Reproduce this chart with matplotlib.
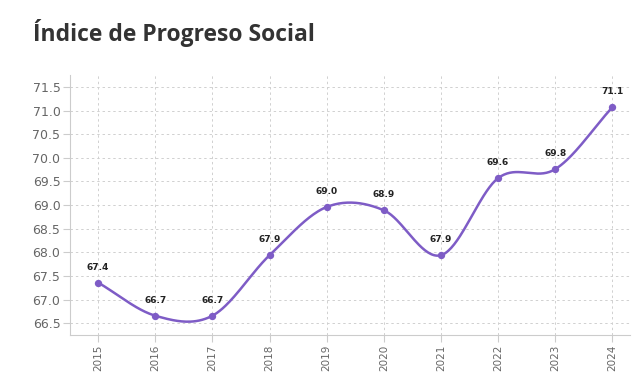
import numpy as np
import matplotlib
matplotlib.use("Agg")
import matplotlib.pyplot as plt

years = [2015, 2016, 2017, 2018, 2019, 2020, 2021, 2022, 2023, 2024]
values = [67.36, 66.66, 66.66, 67.94, 68.96, 68.89, 67.94, 69.57, 69.76, 71.07]
yticks = [66.5, 67.0, 67.5, 68.0, 68.5, 69.0, 69.5, 70.0, 70.5, 71.0, 71.5]
title = "Índice de Progreso Social"
color = "#7E5CC6"


def catmull_rom(x, y, n=40):
    x = np.asarray(x, float)
    y = np.asarray(y, float)
    px = np.concatenate([[2 * x[0] - x[1]], x, [2 * x[-1] - x[-2]]])
    py = np.concatenate([[2 * y[0] - y[1]], y, [2 * y[-1] - y[-2]]])
    xs, ys = [], []
    for i in range(1, len(px) - 2):
        t = np.linspace(0, 1, n)
        p0, p1, p2, p3 = py[i - 1], py[i], py[i + 1], py[i + 2]
        m1 = (p2 - p0) / 2
        m2 = (p3 - p1) / 2
        h00 = 2 * t**3 - 3 * t**2 + 1
        h10 = t**3 - 2 * t**2 + t
        h01 = -2 * t**3 + 3 * t**2
        h11 = t**3 - t**2
        ys.append(h00 * p1 + h10 * m1 + h01 * p2 + h11 * m2)
        xs.append(px[i] + t * (px[i + 1] - px[i]))
    return np.concatenate(xs), np.concatenate(ys)


fig = plt.figure(figsize=(6.32, 3.91), dpi=100)
ax = fig.add_axes([0.111, 0.143, 0.886, 0.665])

sx, sy = catmull_rom(years, values)
ax.plot(sx, sy, color=color, lw=1.8, zorder=3)
ax.scatter(years, values, s=28, color=color, zorder=4, linewidths=0)
for x, v in zip(years, values):
    ax.annotate(f"{v:.1f}", (x, v), xytext=(0, 8), textcoords="offset points",
                ha="center", va="bottom", fontsize=6.5, fontweight="bold", color="#222222",
                family=["DejaVu Sans"])

ax.set_xlim(2014.51, 2024.31)
ax.set_ylim(66.25, 71.75)
ax.set_xticks(years)
ax.set_xticklabels([str(y) for y in years], rotation=90, fontsize=7.5, color="#666666")
ax.set_yticks(yticks)
ax.set_yticklabels([f"{t:.1f}" for t in yticks], fontsize=9, color="#666666")
ax.grid(True, color="#d0d0d0", ls=(0, (2.5, 3)), lw=0.7)
ax.set_axisbelow(True)
for s in ["top", "right"]:
    ax.spines[s].set_visible(False)
for s in ["left", "bottom"]:
    ax.spines[s].set_color("#cccccc")
ax.tick_params(axis="both", color="#cccccc", length=5, pad=2)

fig.text(0.052, 0.915, title, fontsize=16.5, fontweight="bold", color="#333333",
         family=["Open Sans", "DejaVu Sans"], ha="left", va="center")

fig.savefig("out.png", dpi=100)
